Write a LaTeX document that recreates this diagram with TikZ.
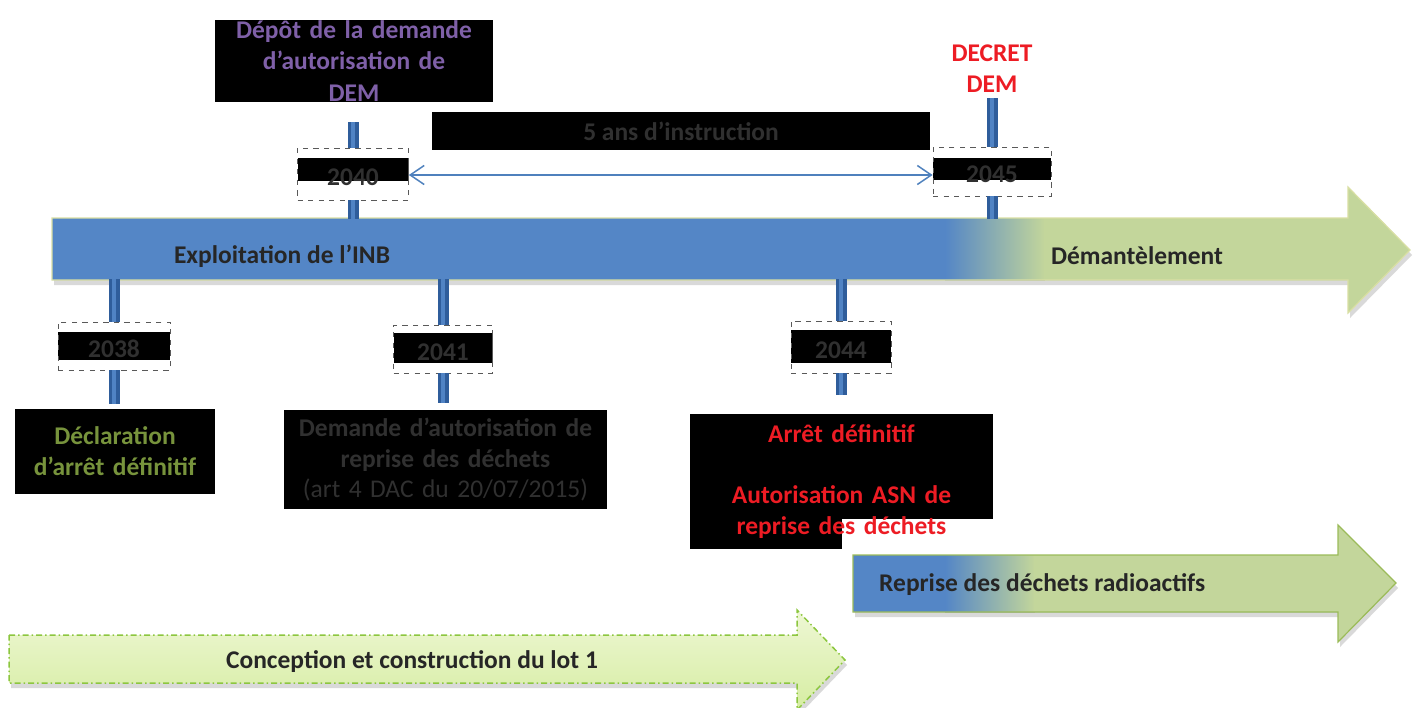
\documentclass[tikz,border=0pt]{standalone}
\usepackage{fontspec}
\setmainfont{Carlito}
\usetikzlibrary{arrows.meta, calc}

\definecolor{inbblue}{HTML}{5486C6}
\definecolor{demgreen}{HTML}{C3D69B}
\definecolor{arrowedge}{HTML}{D9DFA3}
\definecolor{repedge}{HTML}{9BBB59}
\definecolor{lottop}{HTML}{EEF7D4}
\definecolor{lotbot}{HTML}{D6EDA2}
\definecolor{lotedge}{HTML}{8CC63F}
\definecolor{postdark}{HTML}{2F5D9B}
\definecolor{postlight}{HTML}{5083C4}
\definecolor{linkblue}{HTML}{4F81BD}
\definecolor{txtdark}{HTML}{262626}
\definecolor{txtgrey}{HTML}{303030}
\definecolor{txtpurple}{HTML}{7F60A8}
\definecolor{txtred}{HTML}{ED1C24}
\definecolor{txtgreen}{HTML}{77933C}

\def\px{0.02cm}

\tikzset{
  post/.style={draw=postdark, line width=3.5*\px, double=postlight, double distance=4*\px},
  datebox/.style n args={4}{draw=black!65, dashed, fill=white, inner sep=0pt,
    minimum width=#1*\px, minimum height=#2*\px, text=txtgrey,
    text height=22*\px, text depth=0pt,
    path picture={\fill[black] ($(path picture bounding box.north west)+(0,#3)$)
      rectangle ($(path picture bounding box.north east)+(0,#4)$);}},
  textbox/.style={fill=black, align=center, inner sep=0pt},
  bartext/.style={text=txtdark},
  instrarrow/.style={draw=linkblue, line width=1.5*\px, <->, >={Straight Barb[length=2.8mm, width=3.8mm]}}
}

\begin{document}
\begin{tikzpicture}[x=\px, y={(0,-\px)},
    every node/.append style={font=\fontsize{14.5}{17.6}\selectfont\bfseries}]
    \useasboundingbox (0,0) rectangle (1420,707);
    % Main arrow: exploitation, then dismantling
    \def\inbarrow{(52,218) -- (1348,218) -- (1348,187) -- (1410,250) -- (1348,313) -- (1348,280) -- (52,280) -- cycle}
    \fill[black, opacity=0.15, shift={(2,5)}] \inbarrow;
    \fill[inbblue] \inbarrow;
    \begin{scope}
        \clip \inbarrow;
        \fill[left color=inbblue, right color=demgreen] (945,180) rectangle (1045,320);
        \fill[demgreen] (1044,180) rectangle (1420,320);
    \end{scope}
    \draw[arrowedge, line width=1.2*\px] \inbarrow;
    \coordinate (inbtop) at (0,219);
    \coordinate (inbbot) at (0,279);
    \node[bartext] (inb) at (282,256) {Exploitation de l’INB};
    \node[bartext] (dem) at (1137,256) {Démantèlement};
    % Waste retrieval arrow
    \def\reparrow{(853,555) -- (1338,555) -- (1338,525) -- (1396,583) -- (1338,642) -- (1338,612) -- (853,612) -- cycle}
    \fill[black, opacity=0.15, shift={(2,5)}] \reparrow;
    \fill[inbblue] \reparrow;
    \begin{scope}
        \clip \reparrow;
        \fill[left color=inbblue, right color=demgreen] (945,520) rectangle (1035,650);
        \fill[demgreen] (1034,520) rectangle (1420,650);
    \end{scope}
    \draw[repedge, line width=1.2*\px] \reparrow;
    \node[bartext, anchor=west] (rep) at (873,585) {Reprise des déchets radioactifs};
    % Design and construction arrow
    \def\lotarrow{(9,635) -- (797,635) -- (797,610) -- (845,660) -- (797,710) -- (797,683) -- (9,683) -- cycle}
    \fill[black, opacity=0.15, shift={(2,5)}] \lotarrow;
    \draw[lotedge, line width=1.5*\px, top color=lottop, bottom color=lotbot,
        dash pattern=on 6*\px off 3*\px on 1.5*\px off 3*\px] \lotarrow;
    \node[bartext] (lot) at (412,662) {Conception et construction du lot 1};
    % Texts above the timeline
    \node[textbox, text=txtpurple, text width=278*\px,
        font=\fontsize{14.5}{18}\selectfont\bfseries] (dep) at (354,61)
        {Dépôt de la demande\\ d’autorisation de\\ DEM};
    \node[align=center, text=txtred] (decret) at (992,69) {DECRET\\ DEM};
    \node[textbox, text=txtgrey, minimum width=498*\px, minimum height=38*\px] (instr) at (681,131)
        {5 ans d’instruction};
    % Dates above the timeline
    \node[datebox={111}{52}{10}{33}] (d2040) at (353,174) {2040};
    \node[datebox={118}{49}{11}{33}] (d2045) at (992,171.5) {2045};
    \coordinate (p2040) at (353,122);
    \coordinate (p2045) at (992,98);
    \draw[post] (p2040) -- (d2040.north);
    \draw[post] (d2040.south) -- (d2040.south |- inbtop);
    \draw[post] (p2045) -- (d2045.north);
    \draw[post] (d2045.south) -- (d2045.south |- inbtop);
    \draw[instrarrow] (d2040.east |- 0,175) -- (d2045.west |- 0,175);
    % Dates below the timeline
    \node[datebox={112}{48}{10}{38}] (d2038) at (114,346) {2038};
    \node[datebox={99}{48}{8}{38}] (d2041) at (443,349) {2041};
    \node[datebox={100}{52}{9}{42}] (d2044) at (841,347) {2044};
    % Texts below the timeline
    \node[textbox, text=txtgreen, text width=200*\px, minimum height=85*\px] (decl) at (115,451.5)
        {Déclaration\\ d’arrêt définitif};
    \node[textbox, text=txtgrey, text width=323*\px, minimum height=99*\px] (dmd) at (445.5,459.5)
        {Demande d’autorisation de\\ reprise des déchets\\ \mdseries(art 4 DAC du 20/07/2015)};
    \node[textbox, text=txtred, text width=303*\px, minimum height=135*\px,
        path picture={\fill[white] ($(path picture bounding box.south west)+(152,0)$)
            rectangle ($(path picture bounding box.south east)+(0,-30)$);}] (arret) at (841.5,481.5)
        {Arrêt définitif\\[17.6pt] Autorisation ASN de\\ reprise des déchets};
    \draw[post] (d2038.north |- inbbot) -- (d2038.north);
    \draw[post] (d2038.south) -- (d2038.south |- 0,404);
    \draw[post] (d2041.north |- inbbot) -- (d2041.north);
    \draw[post] (d2041.south) -- (d2041.south |- 0,403);
    \draw[post] (d2044.north |- inbbot) -- (d2044.north);
    \draw[post] (d2044.south) -- (d2044.south |- 0,395);
\end{tikzpicture}
\end{document}
